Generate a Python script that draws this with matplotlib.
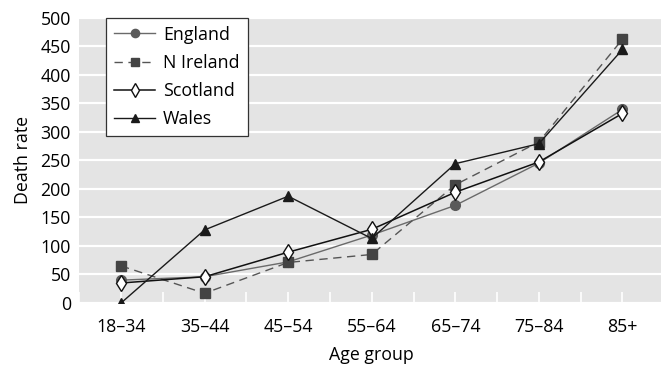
import matplotlib
matplotlib.use("Agg")
import matplotlib.pyplot as plt
import numpy as np

age_groups = ["18\u201334", "35\u201344", "45\u201354", "55\u201364", "65\u201374", "75\u201384", "85+"]
england = [40, 46, 72, 119, 171, 245, 339]
n_ireland = [65, 17, 71, 85, 207, 282, 462]
scotland = [35, 46, 89, 129, 194, 247, 332]
wales = [0, 128, 187, 113, 244, 279, 444]

plt.rcParams["font.family"] = ["Open Sans", "DejaVu Sans"]
fs = 12.8

fig = plt.figure(figsize=(6.61, 3.71), dpi=100)
ax = fig.add_axes([0.1199, 0.1833, 0.885, 0.7695])
ax.set_facecolor("#e4e4e4")
for s in ax.spines.values():
    s.set_visible(False)

x = np.arange(len(age_groups))

ax.plot(x, england, color="#6a6a6a", lw=1.0, marker="o", ms=7,
        mfc="#5a5a5a", mec="#5a5a5a", label="England", zorder=3)
ax.plot(x, n_ireland, color="#555555", lw=1.0, ls=(0, (6, 4)), marker="s", ms=7,
        mfc="#444444", mec="#444444", label="N Ireland", zorder=3)
ax.plot(x, scotland, color="#111111", lw=1.1, marker="d", ms=8,
        mfc="white", mec="#111111", mew=1.0, label="Scotland", zorder=4)
ax.plot(x, wales, color="#1a1a1a", lw=1.0, marker="^", ms=7,
        mfc="#1a1a1a", mec="#1a1a1a", label="Wales", zorder=4)

ax.set_xlim(-0.5, len(age_groups) - 0.5)
ax.set_ylim(0, 500)
ax.set_yticks(np.arange(0, 501, 50))
ax.yaxis.grid(True, color="white", lw=1.6)
ax.set_axisbelow(True)
ax.tick_params(axis="y", length=0, labelsize=fs, pad=6)

ax.set_xticks(x)
ax.set_xticklabels(age_groups)
ax.set_xticks(np.arange(-0.5, len(age_groups), 1.0), minor=True)
ax.tick_params(axis="x", which="both", direction="in", length=8, width=1.2,
               color="white", labelsize=fs, pad=11)

ax.set_xlabel("Age group", fontsize=fs, labelpad=7)
ax.set_ylabel("Death rate", fontsize=fs, labelpad=6)

leg = ax.legend(loc="upper left", bbox_to_anchor=(0.046, 1.0), borderaxespad=0,
                frameon=True, fancybox=False, edgecolor="#333333", fontsize=fs,
                handlelength=2.3, borderpad=0.45, labelspacing=0.58,
                handletextpad=0.45, markerscale=0.85)
leg.get_frame().set_linewidth(0.9)
leg.get_frame().set_facecolor("white")
leg.get_frame().set_alpha(1)

fig.savefig("out.png", dpi=100)
